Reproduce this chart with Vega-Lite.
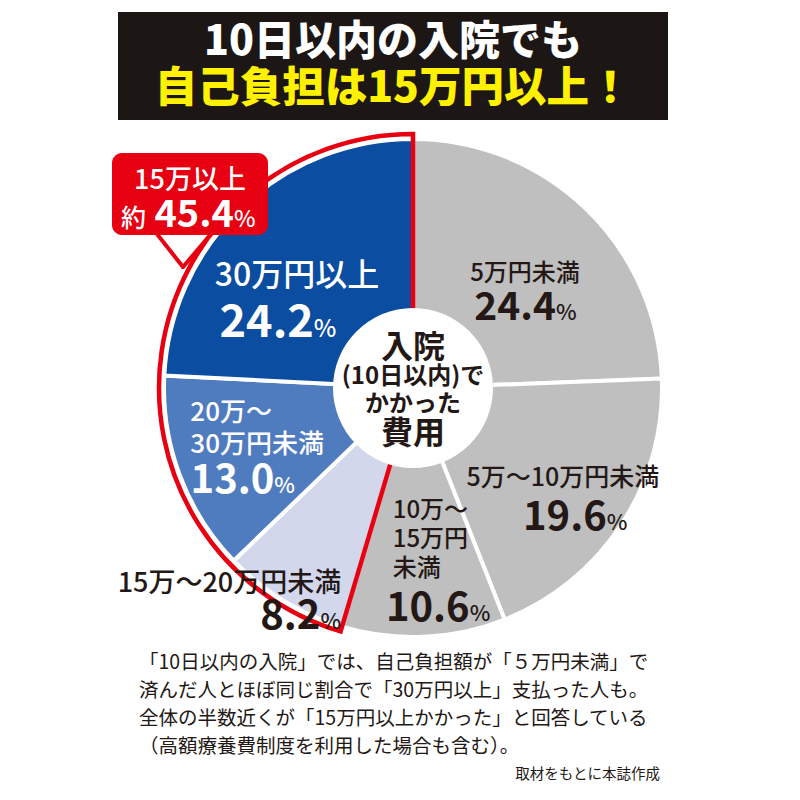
{
  "$schema": "https://vega.github.io/schema/vega-lite/v6.json",
  "background": "white",
  "padding": {"left": 112, "top": 12, "right": 10, "bottom": 10},
  "bounds": "flush",
  "spacing": 0,
  "resolve": {"scale": {"color": "independent", "x": "independent", "y": "independent", "theta": "independent", "size": "independent"}},
  "config": {"view": {"stroke": null}, "font": "Noto Sans CJK JP", "text": {"font": "Noto Sans CJK JP"}},
  "datasets": {
    "slices": [
      {"name": "5万円未満", "value": 24.4, "order": 1, "grp": "15万未満"},
      {"name": "5万～10万円未満", "value": 19.6, "order": 2, "grp": "15万未満"},
      {"name": "10万～15万円未満", "value": 10.6, "order": 3, "grp": "15万未満"},
      {"name": "15万～20万円未満", "value": 8.2, "order": 4, "grp": "15万以上"},
      {"name": "20万～30万円未満", "value": 13.0, "order": 5, "grp": "15万以上"},
      {"name": "30万円以上", "value": 24.2, "order": 6, "grp": "15万以上"}
    ]
  },
  "vconcat": [
    {
      "width": 550,
      "height": 108,
      "view": {"fill": "#1c1614", "stroke": null},
      "data": {"values": [{"line": "1", "t": "10日以内の入院でも"}, {"line": "2", "t": "自己負担は15万円以上！"}]},
      "mark": {"type": "text", "fontWeight": 900, "baseline": "middle", "align": "center"},
      "encoding": {
        "y": {"field": "line", "type": "ordinal", "axis": null, "scale": {"type": "point", "padding": 0.66}},
        "text": {"field": "t"},
        "size": {"field": "line", "type": "nominal", "legend": null, "scale": {"domain": ["1", "2"], "range": [41, 42.5]}},
        "color": {"field": "line", "type": "nominal", "legend": null, "scale": {"domain": ["1", "2"], "range": ["#ffffff", "#fff100"]}}
      }
    },
    {
      "width": 590,
      "height": 536,
      "layer": [
        {
          "data": {"name": "slices"},
          "mark": {"type": "arc", "outerRadius": 249, "stroke": "white", "strokeWidth": 4},
          "encoding": {
            "theta": {"field": "value", "type": "quantitative", "stack": true},
            "order": {"field": "order", "type": "quantitative"},
            "color": {"field": "name", "type": "nominal", "legend": null,
              "scale": {"domain": ["5万円未満", "5万～10万円未満", "10万～15万円未満", "15万～20万円未満", "20万～30万円未満", "30万円以上"],
                        "range": ["#bfbfbf", "#bfbfbf", "#bfbfbf", "#d2d7ec", "#4f7cbf", "#0b4da1"]}}
          }
        },
        {
          "data": {"name": "slices"},
          "transform": [{"aggregate": [{"op": "sum", "field": "value", "as": "total"}, {"op": "min", "field": "order", "as": "o"}], "groupby": ["grp"]}],
          "mark": {"type": "arc", "outerRadius": 254, "fill": "white", "fillOpacity": 0, "stroke": "#e60012", "strokeWidth": 4.5, "strokeJoin": "miter"},
          "encoding": {
            "theta": {"field": "total", "type": "quantitative", "stack": true},
            "order": {"field": "o", "type": "quantitative"},
            "strokeOpacity": {"condition": {"test": "datum.grp === '15万以上'", "value": 1}, "value": 0}
          }
        },
        {
          "data": {"values": [{"t": "hole"}]},
          "mark": {"type": "arc", "outerRadius": 80, "theta": 0, "theta2": 6.2832, "fill": "white"},
          "encoding": {}
        },
        {
          "data": {"values": [{"t": "入院"}]},
          "mark": {"type": "text", "dy": -40, "baseline": "middle", "fontSize": 32, "fontWeight": "bold", "color": "#231815"},
          "encoding": {"text": {"field": "t"}}
        },
        {
          "data": {"values": [{"t": "(10日以内)で"}]},
          "mark": {"type": "text", "dy": -11, "baseline": "middle", "fontSize": 24, "fontWeight": "bold", "color": "#231815"},
          "encoding": {"text": {"field": "t"}}
        },
        {
          "data": {"values": [{"t": "かかった"}]},
          "mark": {"type": "text", "dy": 17, "baseline": "middle", "fontSize": 24, "fontWeight": "bold", "color": "#231815"},
          "encoding": {"text": {"field": "t"}}
        },
        {
          "data": {"values": [{"t": "費用"}]},
          "mark": {"type": "text", "dy": 46, "baseline": "middle", "fontSize": 32, "fontWeight": "bold", "color": "#231815"},
          "encoding": {"text": {"field": "t"}}
        },
        {
          "data": {"name": "slices"},
          "mark": {"type": "text", "radius": 160, "dx": 1, "dy": 8, "align": "center", "baseline": "alphabetic", "fontSize": 24, "fontWeight": 500, "color": "#231815"},
          "encoding": {"theta": {"field": "value", "type": "quantitative", "stack": true}, "order": {"field": "order", "type": "quantitative"},
            "text": {"condition": {"test": "datum.order === 1", "field": "name"}, "value": ""}}
        },
        {
          "data": {"name": "slices"},
          "mark": {"type": "text", "radius": 160, "dx": 32, "dy": 47, "align": "right", "baseline": "alphabetic", "fontSize": 39, "fontWeight": "bold", "color": "#231815"},
          "encoding": {"theta": {"field": "value", "type": "quantitative", "stack": true}, "order": {"field": "order", "type": "quantitative"},
            "text": {"condition": {"test": "datum.order === 1", "field": "value", "type": "quantitative", "format": ".1f"}, "value": ""}}
        },
        {
          "data": {"name": "slices"},
          "mark": {"type": "text", "radius": 160, "dx": 32, "dy": 47, "align": "left", "baseline": "alphabetic", "fontSize": 22, "fontWeight": 500, "color": "#231815"},
          "encoding": {"theta": {"field": "value", "type": "quantitative", "stack": true}, "order": {"field": "order", "type": "quantitative"},
            "text": {"condition": {"test": "datum.order === 1", "value": "%"}, "value": ""}}
        },
        {
          "data": {"name": "slices"},
          "mark": {"type": "text", "radius": 180, "dx": -1, "dy": 0, "align": "center", "baseline": "alphabetic", "fontSize": 25, "fontWeight": 500, "color": "#231815"},
          "encoding": {"theta": {"field": "value", "type": "quantitative", "stack": true}, "order": {"field": "order", "type": "quantitative"},
            "text": {"condition": {"test": "datum.order === 2", "field": "name"}, "value": ""}}
        },
        {
          "data": {"name": "slices"},
          "mark": {"type": "text", "radius": 180, "dx": 43, "dy": 44, "align": "right", "baseline": "alphabetic", "fontSize": 40, "fontWeight": "bold", "color": "#231815"},
          "encoding": {"theta": {"field": "value", "type": "quantitative", "stack": true}, "order": {"field": "order", "type": "quantitative"},
            "text": {"condition": {"test": "datum.order === 2", "field": "value", "type": "quantitative", "format": ".1f"}, "value": ""}}
        },
        {
          "data": {"name": "slices"},
          "mark": {"type": "text", "radius": 180, "dx": 43, "dy": 44, "align": "left", "baseline": "alphabetic", "fontSize": 22, "fontWeight": 500, "color": "#231815"},
          "encoding": {"theta": {"field": "value", "type": "quantitative", "stack": true}, "order": {"field": "order", "type": "quantitative"},
            "text": {"condition": {"test": "datum.order === 2", "value": "%"}, "value": ""}}
        },
        {
          "data": {"name": "slices"},
          "mark": {"type": "text", "radius": 130, "dx": -26, "dy": 0, "align": "left", "baseline": "alphabetic", "fontSize": 24, "fontWeight": 500, "color": "#231815", "lineBreak": "\n", "lineHeight": 29},
          "encoding": {"theta": {"field": "value", "type": "quantitative", "stack": true}, "order": {"field": "order", "type": "quantitative"},
            "text": {"condition": {"test": "datum.order === 3", "value": "10万～\n15万円\n未満"}, "value": ""}}
        },
        {
          "data": {"name": "slices"},
          "mark": {"type": "text", "radius": 130, "dx": 51, "dy": 103, "align": "right", "baseline": "alphabetic", "fontSize": 40, "fontWeight": "bold", "color": "#231815"},
          "encoding": {"theta": {"field": "value", "type": "quantitative", "stack": true}, "order": {"field": "order", "type": "quantitative"},
            "text": {"condition": {"test": "datum.order === 3", "field": "value", "type": "quantitative", "format": ".1f"}, "value": ""}}
        },
        {
          "data": {"name": "slices"},
          "mark": {"type": "text", "radius": 130, "dx": 51, "dy": 103, "align": "left", "baseline": "alphabetic", "fontSize": 22, "fontWeight": 500, "color": "#231815"},
          "encoding": {"theta": {"field": "value", "type": "quantitative", "stack": true}, "order": {"field": "order", "type": "quantitative"},
            "text": {"condition": {"test": "datum.order === 3", "value": "%"}, "value": ""}}
        },
        {
          "data": {"name": "slices"},
          "mark": {"type": "text", "radius": 230, "dx": -64, "dy": 8, "align": "center", "baseline": "alphabetic", "fontSize": 27, "fontWeight": 500, "color": "#231815"},
          "encoding": {"theta": {"field": "value", "type": "quantitative", "stack": true}, "order": {"field": "order", "type": "quantitative"},
            "text": {"condition": {"test": "datum.order === 4", "field": "name"}, "value": ""}}
        },
        {
          "data": {"name": "slices"},
          "mark": {"type": "text", "radius": 230, "dx": 27, "dy": 45, "align": "right", "baseline": "alphabetic", "fontSize": 40, "fontWeight": "bold", "color": "#231815"},
          "encoding": {"theta": {"field": "value", "type": "quantitative", "stack": true}, "order": {"field": "order", "type": "quantitative"},
            "text": {"condition": {"test": "datum.order === 4", "field": "value", "type": "quantitative", "format": ".1f"}, "value": ""}}
        },
        {
          "data": {"name": "slices"},
          "mark": {"type": "text", "radius": 230, "dx": 27, "dy": 45, "align": "left", "baseline": "alphabetic", "fontSize": 22, "fontWeight": 500, "color": "#231815"},
          "encoding": {"theta": {"field": "value", "type": "quantitative", "stack": true}, "order": {"field": "order", "type": "quantitative"},
            "text": {"condition": {"test": "datum.order === 4", "value": "%"}, "value": ""}}
        },
        {
          "data": {"name": "slices"},
          "mark": {"type": "text", "radius": 195, "dx": -40, "dy": -35, "align": "left", "baseline": "alphabetic", "fontSize": 26, "fontWeight": 500, "color": "white", "lineBreak": "\n", "lineHeight": 32},
          "encoding": {"theta": {"field": "value", "type": "quantitative", "stack": true}, "order": {"field": "order", "type": "quantitative"},
            "text": {"condition": {"test": "datum.order === 5", "value": "20万～\n30万円未満"}, "value": ""}}
        },
        {
          "data": {"name": "slices"},
          "mark": {"type": "text", "radius": 195, "dx": 44, "dy": 37, "align": "right", "baseline": "alphabetic", "fontSize": 40, "fontWeight": "bold", "color": "white"},
          "encoding": {"theta": {"field": "value", "type": "quantitative", "stack": true}, "order": {"field": "order", "type": "quantitative"},
            "text": {"condition": {"test": "datum.order === 5", "field": "value", "type": "quantitative", "format": ".1f"}, "value": ""}}
        },
        {
          "data": {"name": "slices"},
          "mark": {"type": "text", "radius": 195, "dx": 44, "dy": 37, "align": "left", "baseline": "alphabetic", "fontSize": 22, "fontWeight": 500, "color": "white"},
          "encoding": {"theta": {"field": "value", "type": "quantitative", "stack": true}, "order": {"field": "order", "type": "quantitative"},
            "text": {"condition": {"test": "datum.order === 5", "value": "%"}, "value": ""}}
        },
        {
          "data": {"name": "slices"},
          "mark": {"type": "text", "radius": 170, "dx": -81, "dy": 21, "align": "left", "baseline": "alphabetic", "fontSize": 32, "fontWeight": 500, "color": "white"},
          "encoding": {"theta": {"field": "value", "type": "quantitative", "stack": true}, "order": {"field": "order", "type": "quantitative"},
            "text": {"condition": {"test": "datum.order === 6", "field": "name"}, "value": ""}}
        },
        {
          "data": {"name": "slices"},
          "mark": {"type": "text", "radius": 170, "dx": 18, "dy": 72, "align": "right", "baseline": "alphabetic", "fontSize": 45, "fontWeight": "bold", "color": "white"},
          "encoding": {"theta": {"field": "value", "type": "quantitative", "stack": true}, "order": {"field": "order", "type": "quantitative"},
            "text": {"condition": {"test": "datum.order === 6", "field": "value", "type": "quantitative", "format": ".1f"}, "value": ""}}
        },
        {
          "data": {"name": "slices"},
          "mark": {"type": "text", "radius": 170, "dx": 18, "dy": 72, "align": "left", "baseline": "alphabetic", "fontSize": 24, "fontWeight": 500, "color": "white"},
          "encoding": {"theta": {"field": "value", "type": "quantitative", "stack": true}, "order": {"field": "order", "type": "quantitative"},
            "text": {"condition": {"test": "datum.order === 6", "value": "%"}, "value": ""}}
        },
        {
          "data": {"values": [{"t": "box"}]},
          "mark": {"type": "rect", "fill": "#e60012", "cornerRadius": 10},
          "encoding": {
            "x": {"datum": 112, "type": "quantitative", "axis": null, "scale": {"domain": [118, 708], "nice": false, "zero": false}},
            "x2": {"datum": 268},
            "y": {"datum": 153, "type": "quantitative", "axis": null, "scale": {"domain": [120, 656], "nice": false, "zero": false, "reverse": true}},
            "y2": {"datum": 235}
          }
        },
        {
          "data": {"values": [{"t": "pointer"}]},
          "mark": {"type": "rule", "stroke": "#e60012", "strokeWidth": 4, "strokeCap": "round"},
          "encoding": {
            "x": {"datum": 157, "type": "quantitative", "axis": null, "scale": {"domain": [118, 708], "nice": false, "zero": false}},
            "x2": {"datum": 183},
            "y": {"datum": 234, "type": "quantitative", "axis": null, "scale": {"domain": [120, 656], "nice": false, "zero": false, "reverse": true}},
            "y2": {"datum": 267}
          }
        },
        {
          "data": {"values": [{"t": "pointer"}]},
          "mark": {"type": "rule", "stroke": "#e60012", "strokeWidth": 4, "strokeCap": "round"},
          "encoding": {
            "x": {"datum": 211, "type": "quantitative", "axis": null, "scale": {"domain": [118, 708], "nice": false, "zero": false}},
            "x2": {"datum": 183},
            "y": {"datum": 234, "type": "quantitative", "axis": null, "scale": {"domain": [120, 656], "nice": false, "zero": false, "reverse": true}},
            "y2": {"datum": 267}
          }
        },
        {
          "data": {"name": "slices"},
          "transform": [{"aggregate": [{"op": "sum", "field": "value", "as": "total"}], "groupby": ["grp"]}, {"filter": "datum.grp === '15万以上'"}],
          "mark": {"type": "text", "align": "center", "baseline": "alphabetic", "fontSize": 27, "fontWeight": 500, "color": "white"},
          "encoding": {
            "x": {"datum": 190, "type": "quantitative", "axis": null, "scale": {"domain": [118, 708], "nice": false, "zero": false}},
            "y": {"datum": 189, "type": "quantitative", "axis": null, "scale": {"domain": [120, 656], "nice": false, "zero": false, "reverse": true}},
            "text": {"field": "grp"}
          }
        },
        {
          "data": {"values": [{"t": "約"}]},
          "mark": {"type": "text", "align": "left", "baseline": "alphabetic", "fontSize": 25, "fontWeight": 500, "color": "white"},
          "encoding": {
            "x": {"datum": 121, "type": "quantitative", "axis": null, "scale": {"domain": [118, 708], "nice": false, "zero": false}},
            "y": {"datum": 227, "type": "quantitative", "axis": null, "scale": {"domain": [120, 656], "nice": false, "zero": false, "reverse": true}},
            "text": {"field": "t"}
          }
        },
        {
          "data": {"name": "slices"},
          "transform": [{"aggregate": [{"op": "sum", "field": "value", "as": "total"}], "groupby": ["grp"]}, {"filter": "datum.grp === '15万以上'"}],
          "mark": {"type": "text", "align": "right", "baseline": "alphabetic", "fontSize": 38, "fontWeight": "bold", "color": "white"},
          "encoding": {
            "x": {"datum": 234, "type": "quantitative", "axis": null, "scale": {"domain": [118, 708], "nice": false, "zero": false}},
            "y": {"datum": 227, "type": "quantitative", "axis": null, "scale": {"domain": [120, 656], "nice": false, "zero": false, "reverse": true}},
            "text": {"field": "total", "type": "quantitative", "format": ".1f"}
          }
        },
        {
          "data": {"values": [{"t": "%"}]},
          "mark": {"type": "text", "align": "left", "baseline": "alphabetic", "fontSize": 23, "fontWeight": 500, "color": "white"},
          "encoding": {
            "x": {"datum": 234, "type": "quantitative", "axis": null, "scale": {"domain": [118, 708], "nice": false, "zero": false}},
            "y": {"datum": 227, "type": "quantitative", "axis": null, "scale": {"domain": [120, 656], "nice": false, "zero": false, "reverse": true}},
            "text": {"field": "t"}
          }
        }
      ]
    },
    {
      "width": 542,
      "height": 126,
      "data": {"values": [
        {"line": "1", "t": "「10日以内の入院」では、自己負担額が「５万円未満」で"},
        {"line": "2", "t": "済んだ人とほぼ同じ割合で「30万円以上」支払った人も。"},
        {"line": "3", "t": "全体の半数近くが「15万円以上かかった」と回答している"},
        {"line": "4", "t": "（高額療養費制度を利用した場合も含む）。"},
        {"line": "5", "t": "取材をもとに本誌作成"}
      ]},
      "encoding": {
        "y": {"field": "line", "type": "ordinal", "axis": null, "scale": {"type": "point", "padding": 0.25, "domain": ["1", "2", "3", "4", "5"]}},
        "text": {"field": "t"}
      },
      "layer": [
        {
          "transform": [{"filter": "datum.line !== '5'"}],
          "mark": {"type": "text", "align": "left", "baseline": "middle", "fontSize": 19.5, "dx": 21, "color": "#231815"},
          "encoding": {"x": {"datum": 0, "type": "quantitative", "axis": null, "scale": {"domain": [0, 1], "nice": false}}}
        },
        {
          "transform": [{"filter": "datum.line === '5'"}],
          "mark": {"type": "text", "align": "right", "baseline": "middle", "fontSize": 14.5, "color": "#231815"},
          "encoding": {"x": {"datum": 1, "type": "quantitative", "axis": null, "scale": {"domain": [0, 1], "nice": false}}}
        }
      ]
    }
  ]
}
